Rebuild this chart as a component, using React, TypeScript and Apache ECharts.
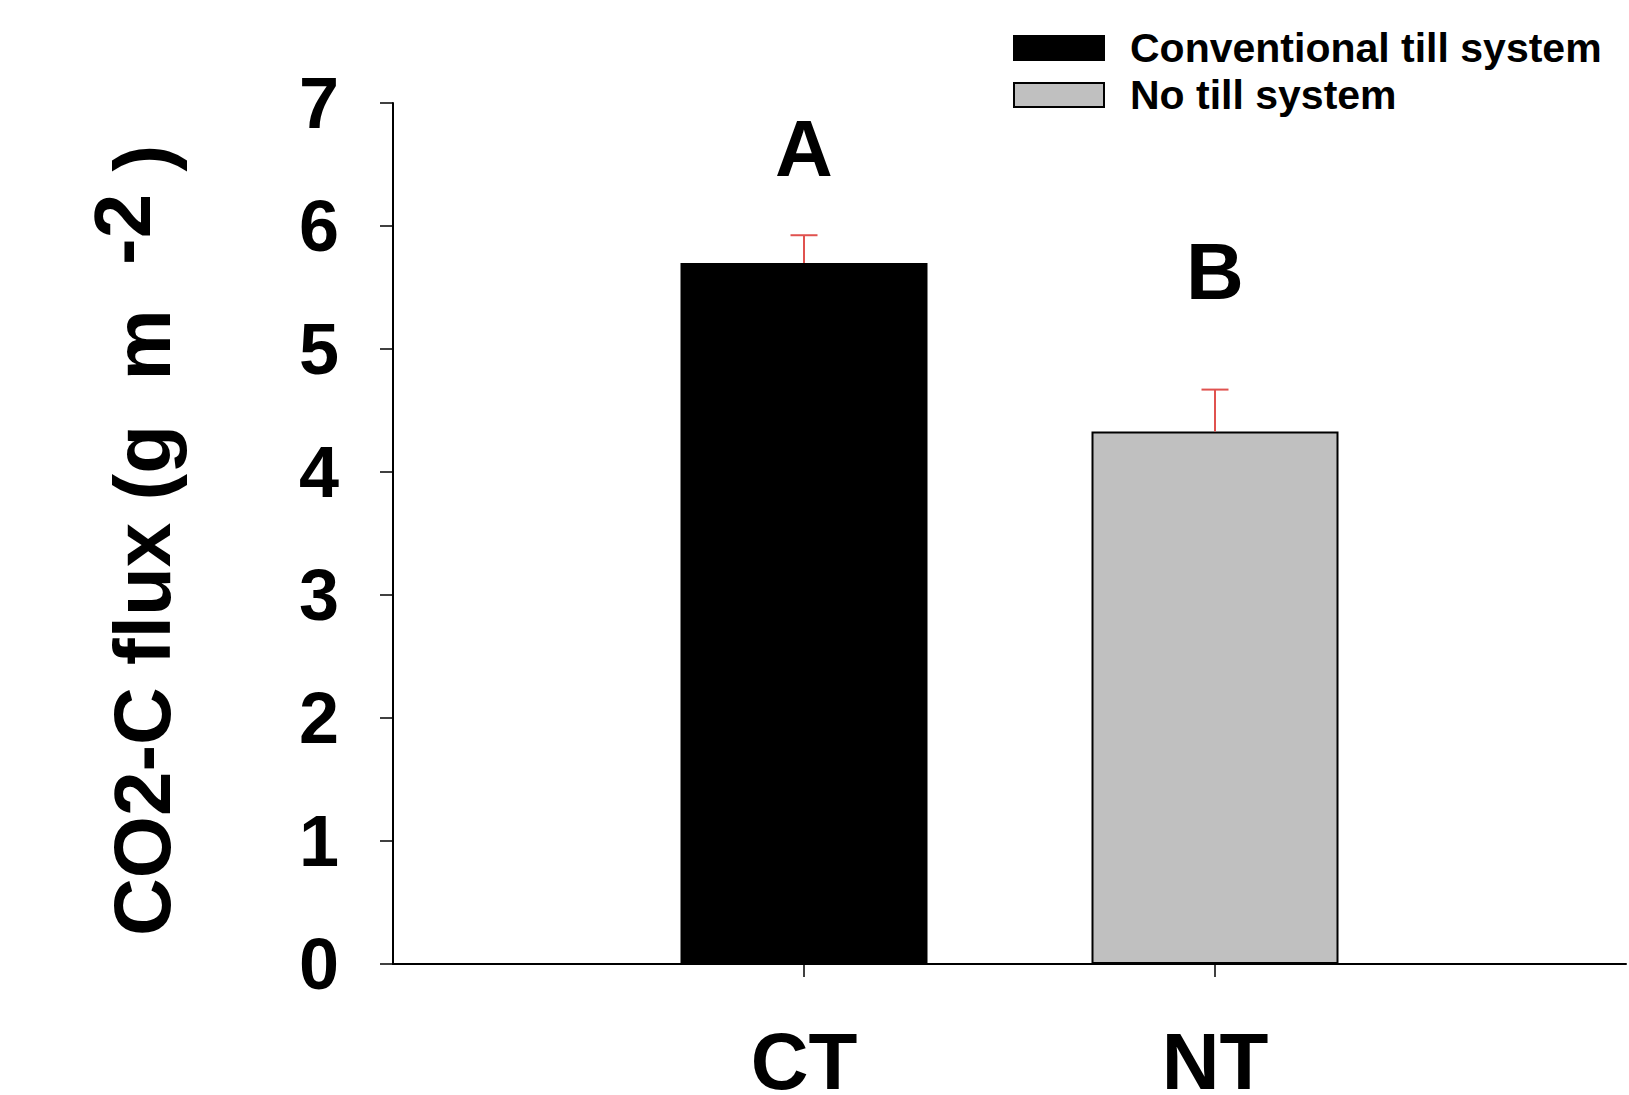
import React, { useEffect, useRef } from "react";
import * as echarts from "echarts";

// ---- data ----
const categories = ["", "CT", "NT", " "];
const seriesNames = ["Conventional till system", "No till system"];
const barCategory = ["CT", "NT"];
const meanValues = [5.7, 4.33];
const errorValues = [0.225, 0.34];
const letterLabels = ["A", "B"];
const letterValues = [6.63, 5.63];
const yMin = 0;
const yMax = 7;
const yInterval = 1;

const barColors = ["#000000", "#c0c0c0"];
const FONT = "'Liberation Sans', Arial, Helvetica, sans-serif";

export default function App() {
  const ref = useRef<HTMLDivElement>(null);

  useEffect(() => {
    if (!ref.current) return;
    const chart = echarts.init(ref.current, null, { renderer: "svg" });

    const barSeries = seriesNames.map((name, i) => ({
      name,
      type: "bar",
      barWidth: 247,
      barGap: "-100%",
      itemStyle: {
        color: barColors[i],
        borderColor: "#000",
        borderWidth: 2,
      },
      data: categories.map((c) =>
        c === barCategory[i] ? meanValues[i] : "-"
      ),
    }));

    const errData = barCategory.map((c, i) => [
      categories.indexOf(c),
      meanValues[i],
      meanValues[i] + errorValues[i],
    ]);

    const letterData = barCategory.map((c, i) => ({
      value: [categories.indexOf(c), letterValues[i]],
      label: { formatter: letterLabels[i] },
    }));

    const option: any = {
      animation: false,
      backgroundColor: "#fff",
      grid: {
        left: 393,
        right: 3,
        top: 103,
        bottom: 131,
        containLabel: false,
        outerBoundsMode: "none",
      },
      legend: {
        orient: "vertical",
        left: 1013,
        top: 27,
        padding: 0,
        itemWidth: 90,
        itemHeight: 24,
        itemGap: 5,
        icon: "rect",
        selectedMode: false,
        data: seriesNames,
        textStyle: {
          fontFamily: FONT,
          fontWeight: "bold",
          fontSize: 41,
          lineHeight: 42,
          color: "#000",
          padding: [0, 0, 0, 21],
        },
      },
      xAxis: {
        type: "category",
        data: categories,
        boundaryGap: false,
        axisLine: { lineStyle: { color: "#000", width: 2 } },
        axisTick: {
          show: true,
          length: 13,
          inside: false,
          interval: (idx: number) => idx === 1 || idx === 2,
          lineStyle: { color: "#000", width: 1.5 },
        },
        axisLabel: {
          interval: 0,
          margin: 67,
          fontFamily: FONT,
          fontWeight: "bold",
          fontSize: 80,
          lineHeight: 60,
          color: "#000",
        },
        splitLine: { show: false },
      },
      yAxis: {
        type: "value",
        min: yMin,
        max: yMax,
        interval: yInterval,
        name: "{a|CO2-C flux (g  m  }{s|-2}{a| )}",
        nameLocation: "middle",
        nameRotate: 90,
        nameGap: 191,
        nameTextStyle: {
          fontFamily: FONT,
          fontWeight: "bold",
          fontSize: 80,
          color: "#000",
          padding: [0, 14, 0, 0],
          rich: {
            a: {
              fontFamily: FONT,
              fontWeight: "bold",
              fontSize: 80,
              lineHeight: 120,
              color: "#000",
            },
            s: {
              fontFamily: FONT,
              fontWeight: "bold",
              fontSize: 80,
              lineHeight: 80,
              verticalAlign: "top",
              color: "#000",
            },
          },
        },
        axisLine: { show: true, lineStyle: { color: "#000", width: 2 } },
        axisTick: {
          show: true,
          length: 13,
          inside: false,
          lineStyle: { color: "#000", width: 1.5 },
        },
        axisLabel: {
          margin: 54,
          fontFamily: FONT,
          fontWeight: "bold",
          fontSize: 72,
          color: "#000",
        },
        splitLine: { show: false },
      },
      series: [
        ...barSeries,
        {
          type: "custom",
          name: "error",
          silent: true,
          z: 5,
          data: errData,
          renderItem: (params: any, api: any) => {
            const x = api.value(0);
            const base = api.coord([x, api.value(1)]);
            const top = api.coord([x, api.value(2)]);
            const half = 13.5;
            return {
              type: "group",
              children: [
                {
                  type: "line",
                  shape: { x1: base[0], y1: base[1], x2: top[0], y2: top[1] },
                  style: { stroke: "#e0524f", lineWidth: 2 },
                },
                {
                  type: "line",
                  shape: {
                    x1: top[0] - half,
                    y1: top[1],
                    x2: top[0] + half,
                    y2: top[1],
                  },
                  style: { stroke: "#e0524f", lineWidth: 2 },
                },
              ],
            };
          },
        },
        {
          type: "scatter",
          name: "letters",
          symbolSize: 0,
          silent: true,
          itemStyle: { opacity: 1 },
          data: letterData,
          label: {
            show: true,
            position: "inside",
            fontFamily: FONT,
            fontWeight: "bold",
            fontSize: 80,
            color: "#000",
            opacity: 1,
          },
        },
      ],
    };

    chart.setOption(option);
    return () => chart.dispose();
  }, []);

  return (
    <div
      ref={ref}
      style={{
        position: "fixed",
        left: 0,
        top: 0,
        width: 1629,
        height: 1095,
        background: "#fff",
      }}
    />
  );
}
